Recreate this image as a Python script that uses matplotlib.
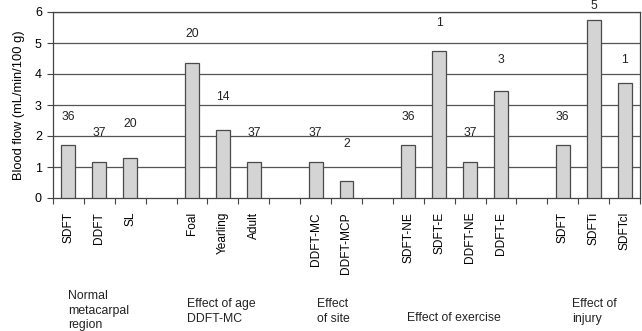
import matplotlib.pyplot as plt
import numpy as np

plt.rcParams['font.family'] = ['Liberation Sans', 'DejaVu Sans']

# bar slots, '' = empty gap between groups
labels = ['SDFT', 'DDFT', 'SL', '',
          'Foal', 'Yearling', 'Adult', '',
          'DDFT-MC', 'DDFT-MCP', '',
          'SDFT-NE', 'SDFT-E', 'DDFT-NE', 'DDFT-E', '',
          'SDFT', 'SDFTi', 'SDFTcl']
flow = [1.7, 1.15, 1.28, None,
        4.35, 2.2, 1.15, None,
        1.15, 0.55, None,
        1.7, 4.75, 1.15, 3.45, None,
        1.7, 5.75, 3.7]
n = ['36', '37', '20', '',
     '20', '14', '37', '',
     '37', '2', '',
     '36', '1', '37', '3', '',
     '36', '5', '1']
n_text_y = [2.6, 2.1, 2.4, None,
            5.3, 3.25, 2.1, None,
            2.1, 1.75, None,
            2.6, 5.65, 2.1, 4.45, None,
            2.6, 6.2, 4.45]
groups = ['Normal\nmetacarpal\nregion', 'Effect of age\nDDFT-MC', 'Effect\nof site',
          'Effect of exercise', 'Effect of\ninjury']

fig = plt.figure(figsize=(6.42, 3.31), dpi=100)
ax = fig.add_axes([53 / 642, 133 / 331, 587 / 642, 186 / 331])

x = np.arange(len(labels))
for i, v in enumerate(flow):
    if v is None:
        continue
    ax.bar(x[i], v, width=0.45, color='#d4d4d4', edgecolor='#4a4a4a',
           linewidth=0.9, zorder=3)
    ax.text(x[i], n_text_y[i], n[i], ha='center', va='center', fontsize=8.7,
            color='#222222', zorder=4)

ax.set_xlim(-0.5, len(labels) - 0.5)
ax.set_ylim(0, 6)
ax.set_yticks(range(7))
for y in range(1, 7):
    ax.axhline(y, color='#555555', linewidth=0.9, zorder=1)

ax.set_xticks(x)
ax.set_xticklabels(labels, rotation=90, fontsize=8.6)
ax.set_xticks(np.arange(-0.5, len(labels)), minor=True)
ax.tick_params(axis='x', which='major', length=0, pad=10)
ax.tick_params(axis='x', which='minor', length=4, width=0.8, color='#444444')
ax.tick_params(axis='y', length=4, width=0.8, color='#444444', labelsize=9, pad=4)

for s in ax.spines.values():
    s.set_color('#444444')
    s.set_linewidth(0.9)

ax.set_ylabel('Blood flow (mL/min/100 g)', fontsize=9.3, labelpad=7)

# group captions under the tick labels
group_x = [68, 187, 317, 407, 572]
group_y = [290, 298, 298, 312, 298]
for gx, gy, g in zip(group_x, group_y, groups):
    fig.text(gx / 642, 1 - gy / 331, g, ha='left', va='top', fontsize=8.8,
             linespacing=1.3, color='#222222')

fig.savefig('out.png', dpi=100)
